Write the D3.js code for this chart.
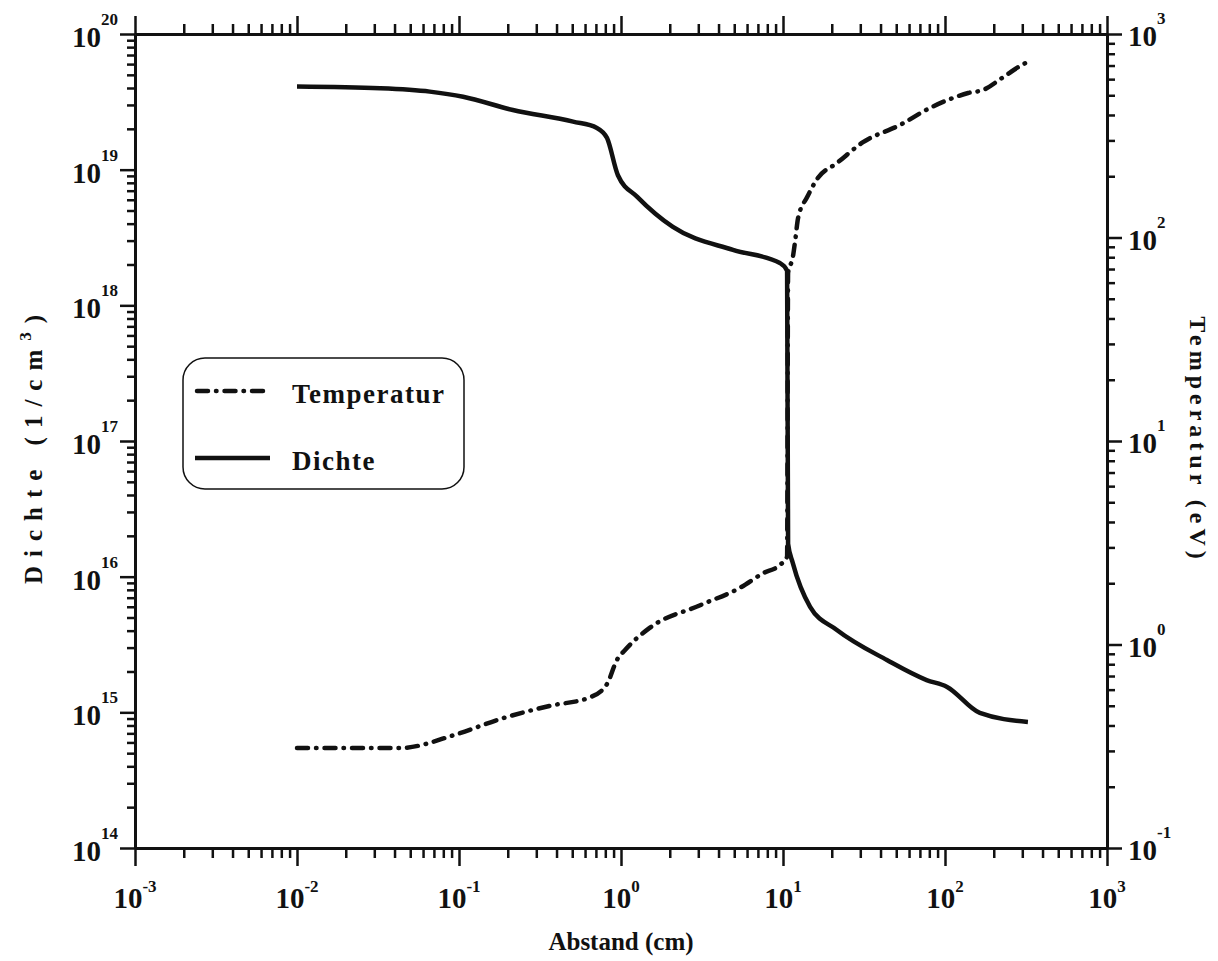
<!DOCTYPE html>
<html>
<head>
<meta charset="utf-8">
<script src="https://cdn.jsdelivr.net/npm/d3@7"></script>
<style>
    body { margin: 0; background: #fff; }
    svg { display: block; }
    text { font-family: "Liberation Serif", "Times New Roman", serif; font-weight: bold; fill: #111; }
</style>
</head>
<body>
<div id="chart"></div>
<script>
// Dichte (1/cm^3) vs Abstand (cm)
var densityX = [0.01, 0.0325, 0.066, 0.106, 0.215, 0.506, 0.71, 0.82, 0.957, 1.26, 2.09, 4.91, 9.57, 10.6,
    10.75, 11.5, 14.7, 21.5, 43.8, 77, 103, 164, 325];
var densityY = [4.1e19, 3.98e19, 3.76e19, 3.45e19, 2.75e19, 2.26e19, 2.03e19, 1.71e19, 9.1e18, 6.3e18, 3.78e18, 2.56e18, 2.05e18, 1.8e18,
    1.75e16, 1.26e16, 6.0e15, 4.05e15, 2.43e15, 1.73e15, 1.54e15, 9.9e14, 8.5e14];

// Temperatur (eV) vs Abstand (cm)
var tempX = [0.01, 0.0433, 0.0944, 0.179, 0.365, 0.644, 0.82, 0.944, 1.06, 1.51, 3.08, 5.43, 7.53, 9.57, 10.6,
    10.75, 11.5, 11.9, 12.4, 14.1, 16.4, 21.5, 31.2, 52.7, 80.7, 112, 139, 172, 225, 299, 320];
var tempY = [0.31, 0.31, 0.36, 0.43, 0.50, 0.55, 0.64, 0.84, 0.94, 1.21, 1.56, 1.90, 2.24, 2.46, 2.7,
    67, 80, 97, 125, 158, 196, 232, 294, 357, 433, 485, 513, 531, 608, 705, 725];

var xDecades = [-3, -2, -1, 0, 1, 2, 3];
var leftDecades = [14, 15, 16, 17, 18, 19, 20];
var rightDecades = [-1, 0, 1, 2, 3];
var minorMult = [2, 3, 4, 5, 6, 7, 8, 9];

var legendLabels = ["Temperatur", "Dichte"];

var width = 1218, height = 961;
var plotLeft = 135, plotRight = 1107, plotTop = 34, plotBottom = 848;

var svg = d3.select("#chart").append("svg")
    .attr("width", width)
    .attr("height", height);

var x = d3.scaleLog().domain([1e-3, 1e3]).range([plotLeft, plotRight]);
var yL = d3.scaleLog().domain([1e14, 1e20]).range([plotBottom, plotTop]);
var yR = d3.scaleLog().domain([0.1, 1e3]).range([plotBottom, plotTop]);

function minors(decades) {
    var out = [];
    for (var i = 0; i < decades.length - 1; i++) {
        minorMult.forEach(function (m) { out.push(m * Math.pow(10, decades[i])); });
    }
    return out;
}
var xMajor = xDecades.map(function (d) { return Math.pow(10, d); });
var lMajor = leftDecades.map(function (d) { return Math.pow(10, d); });
var rMajor = rightDecades.map(function (d) { return Math.pow(10, d); });

function drawAxis(axis, pos) {
    var g = svg.append("g").attr("transform", pos).call(axis);
    g.selectAll("text").remove();
    g.select(".domain").attr("stroke", "#111").attr("stroke-width", 3);
    g.selectAll(".tick line").attr("stroke", "#111").attr("stroke-width", 2.5);
    return g;
}

// bottom + top
drawAxis(d3.axisBottom(x).tickValues(minors(xDecades)).tickSize(10).tickSizeOuter(0), "translate(0," + plotBottom + ")");
drawAxis(d3.axisBottom(x).tickValues(xMajor).tickSize(18).tickSizeOuter(0), "translate(0," + plotBottom + ")");
drawAxis(d3.axisTop(x).tickValues(minors(xDecades)).tickSize(10).tickSizeOuter(0), "translate(0," + plotTop + ")");
drawAxis(d3.axisTop(x).tickValues(xMajor).tickSize(18).tickSizeOuter(0), "translate(0," + plotTop + ")");
// left + right
drawAxis(d3.axisLeft(yL).tickValues(minors(leftDecades)).tickSize(8).tickSizeOuter(0), "translate(" + plotLeft + ",0)");
drawAxis(d3.axisLeft(yL).tickValues(lMajor).tickSize(15).tickSizeOuter(0), "translate(" + plotLeft + ",0)");
drawAxis(d3.axisRight(yR).tickValues(minors(rightDecades)).tickSize(8).tickSizeOuter(0), "translate(" + plotRight + ",0)");
drawAxis(d3.axisRight(yR).tickValues(rMajor).tickSize(15).tickSizeOuter(0), "translate(" + plotRight + ",0)");

// power-of-ten labels
function powLabel(px, py, exp, anchor, supDy) {
    var t = svg.append("text")
        .attr("x", px)
        .attr("y", py)
        .attr("text-anchor", anchor)
        .style("font-size", "29px");
    t.append("tspan").text("10");
    t.append("tspan")
        .attr("dy", supDy)
        .style("font-size", "17px")
        .text(exp);
}
xDecades.forEach(function (d) { powLabel(x(Math.pow(10, d)), 908, d, "middle", -16); });
leftDecades.forEach(function (d) { powLabel(118, yL(Math.pow(10, d)) + 13, d, "end", -22); });
rightDecades.forEach(function (d) { powLabel(1128, yR(Math.pow(10, d)) + 12, d, "start", -22); });

// axis titles
svg.append("text")
    .attr("x", (plotLeft + plotRight) / 2)
    .attr("y", 950)
    .attr("text-anchor", "middle")
    .style("font-size", "25px")
    .text("Abstand (cm)");

var lt = svg.append("text")
    .attr("transform", "translate(42," + 445 + ") rotate(-90)")
    .attr("text-anchor", "middle")
    .style("font-size", "25px")
    .style("letter-spacing", "9px");
lt.append("tspan").text("Dichte (1/cm");
lt.append("tspan").attr("dy", -11).style("font-size", "17px").text("3");
lt.append("tspan").attr("dy", 11).text(")");

svg.append("text")
    .attr("transform", "translate(1190," + 440 + ") rotate(90)")
    .attr("text-anchor", "middle")
    .style("font-size", "24px")
    .style("letter-spacing", "5px")
    .text("Temperatur (eV)");

// curves
var densityLine = d3.line()
    .curve(d3.curveMonotoneX)
    .x(function (d) { return x(d[0]); })
    .y(function (d) { return yL(d[1]); });
var tempLine = d3.line()
    .curve(d3.curveMonotoneX)
    .x(function (d) { return x(d[0]); })
    .y(function (d) { return yR(d[1]); });

var density = densityX.map(function (v, i) { return [v, densityY[i]]; });
var temp = tempX.map(function (v, i) { return [v, tempY[i]]; });

var dashTemp = "11,8,0.5,8";

svg.append("path")
    .attr("d", tempLine(temp))
    .attr("fill", "none")
    .attr("stroke", "#111")
    .attr("stroke-width", 4.5)
    .attr("stroke-linecap", "round")
    .attr("stroke-dasharray", dashTemp);

svg.append("path")
    .attr("d", densityLine(density))
    .attr("fill", "none")
    .attr("stroke", "#111")
    .attr("stroke-width", 4.5)
    .attr("stroke-linejoin", "round");

// legend
var legend = svg.append("g");
legend.append("rect")
    .attr("x", 183).attr("y", 358)
    .attr("width", 281).attr("height", 131)
    .attr("rx", 22).attr("ry", 22)
    .attr("fill", "#fff")
    .attr("stroke", "#111")
    .attr("stroke-width", 1.5);

legend.append("line")
    .attr("x1", 197).attr("x2", 268)
    .attr("y1", 391).attr("y2", 391)
    .attr("stroke", "#111").attr("stroke-width", 4.5)
    .attr("stroke-linecap", "round")
    .attr("stroke-dasharray", dashTemp);
legend.append("line")
    .attr("x1", 195).attr("x2", 270)
    .attr("y1", 458).attr("y2", 458)
    .attr("stroke", "#111").attr("stroke-width", 4.5);

legend.selectAll(".lab")
    .data(legendLabels)
    .enter().append("text")
    .attr("class", "lab")
    .attr("x", 292)
    .attr("y", function (d, i) { return i === 0 ? 403 : 470; })
    .style("font-size", "27px")
    .style("letter-spacing", "1.5px")
    .text(function (d) { return d; });
</script>
</body>
</html>
